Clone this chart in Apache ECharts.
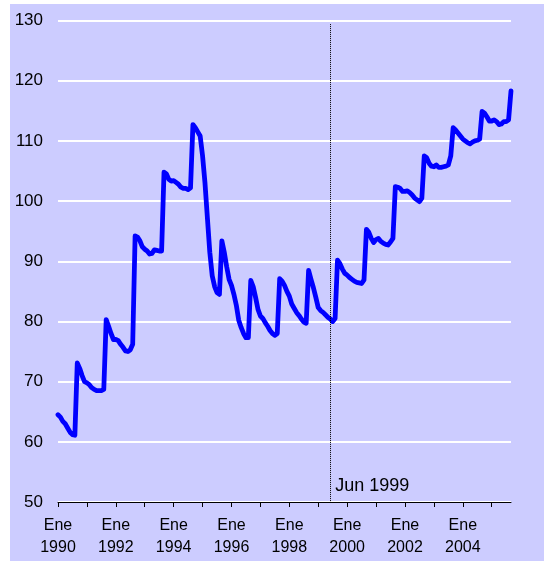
<!DOCTYPE html>
<html>
<head>
<meta charset="utf-8">
<script src="https://cdn.jsdelivr.net/npm/echarts@6/dist/echarts.min.js"></script>
<style>
html,body{margin:0;padding:0;background:#ffffff;width:544px;height:561px;overflow:hidden;}
#chart{position:absolute;left:10px;top:4px;width:534px;height:557px;}
</style>
</head>
<body>
<div id="chart"></div>
<script>
// ---- data ----
var monthNames = ['Ene','Feb','Mar','Abr','May','Jun','Jul','Ago','Sep','Oct','Nov','Dic'];
var startYear = 1990;
var values = [
  64.5,64.1,63.4,63.0,62.3,61.6,61.2,61.1,73.1,72.2,71.0,70.0,
  69.8,69.5,69.0,68.7,68.5,68.5,68.5,68.7,80.3,79.2,78.0,77.0,
  77.0,76.8,76.2,75.7,75.1,75.0,75.3,76.2,94.2,94.0,93.4,92.4,
  92.0,91.7,91.2,91.3,91.9,91.8,91.7,91.7,104.8,104.5,103.6,103.3,
  103.4,103.1,102.8,102.3,102.1,102.1,101.9,102.2,112.7,112.2,111.5,110.8,
  107.5,103.0,97.2,91.5,87.6,85.8,84.8,84.5,93.4,91.5,89.1,87.0,
  86.0,84.5,82.7,80.2,79.0,78.0,77.3,77.3,86.8,85.8,84.0,82.0,
  80.9,80.5,79.8,79.2,78.5,78.0,77.7,78.0,87.1,86.7,86.0,85.0,
  84.2,82.9,82.2,81.5,81.0,80.4,79.9,79.7,88.5,87.0,85.6,84.0,
  82.3,81.8,81.5,81.1,80.7,80.4,80.0,80.5,90.2,89.6,88.7,88.0,
  87.7,87.3,87.0,86.7,86.5,86.4,86.3,86.9,95.3,94.8,93.8,93.1,
  93.6,93.8,93.3,93.0,92.8,92.7,93.2,93.8,102.4,102.3,102.1,101.6,
  101.6,101.7,101.4,101.0,100.5,100.2,99.9,100.5,107.5,107.2,106.3,105.8,
  105.7,106.0,105.6,105.6,105.7,105.8,106.0,107.5,112.2,111.8,111.3,110.8,
  110.3,110.0,109.7,109.5,109.8,110.0,110.1,110.3,114.9,114.6,114.0,113.3,
  113.3,113.5,113.2,112.7,112.8,113.2,113.2,113.5,118.3
];
var markerCategory = 'Jun 1999';
var markerLabel = 'Jun 1999';
var yTicks = {min: 50, max: 130, interval: 10};

var categories = [];
for (var i = 0; i < values.length; i++) {
  categories.push(monthNames[i % 12] + ' ' + (startYear + Math.floor(i / 12)));
}

var FONT = "'Liberation Sans', Arial, sans-serif";
var chart = echarts.init(document.getElementById('chart'));
chart.setOption({
  animation: false,
  backgroundColor: '#CCCCFF',
  grid: {left: 48, right: 33, top: 16.5, bottom: 59, outerBoundsMode: 'none', containLabel: false},
  xAxis: {
    type: 'category',
    data: categories,
    boundaryGap: false,
    axisLine: {show: true, lineStyle: {color: '#000000', width: 1}},
    axisTick: {show: true, length: 5, lineStyle: {color: '#000000', width: 1},
      interval: function (idx) { return idx % 12 === 0; }},
    axisLabel: {
      show: true, color: '#000000', fontSize: 16, fontFamily: FONT, lineHeight: 22, margin: 13,
      interval: function (idx) { return idx % 24 === 0; },
      formatter: function (val) { var p = val.split(' '); return p[0] + '\n' + p[1]; }
    },
    splitLine: {show: false}
  },
  yAxis: {
    type: 'value',
    min: yTicks.min, max: yTicks.max, interval: yTicks.interval,
    axisLine: {show: false},
    axisTick: {show: false},
    axisLabel: {color: '#000000', fontSize: 17, fontFamily: FONT, margin: 15},
    splitLine: {show: true, lineStyle: {color: '#FFFFFF', width: 2}}
  },
  series: [{
    type: 'line',
    data: values,
    symbol: 'none',
    lineStyle: {color: '#0000FF', width: 4.8, join: 'round', cap: 'round'},
    markLine: {
      silent: true,
      symbol: ['none', 'none'],
      label: {show: false},
      lineStyle: {type: 'dotted', color: '#000000', width: 1},
      data: [[{coord: [markerCategory, 129.4]}, {coord: [markerCategory, 50]}]]
    }
  }]
});
var p = chart.convertToPixel({xAxisIndex: 0, yAxisIndex: 0}, [markerCategory, 50]);
chart.setOption({
  graphic: [{
    type: 'text', left: p[0] + 5, top: p[1] - 25,
    style: {text: markerLabel, fill: '#000000', font: '18px ' + FONT}
  }]
});
</script>
</body>
</html>
